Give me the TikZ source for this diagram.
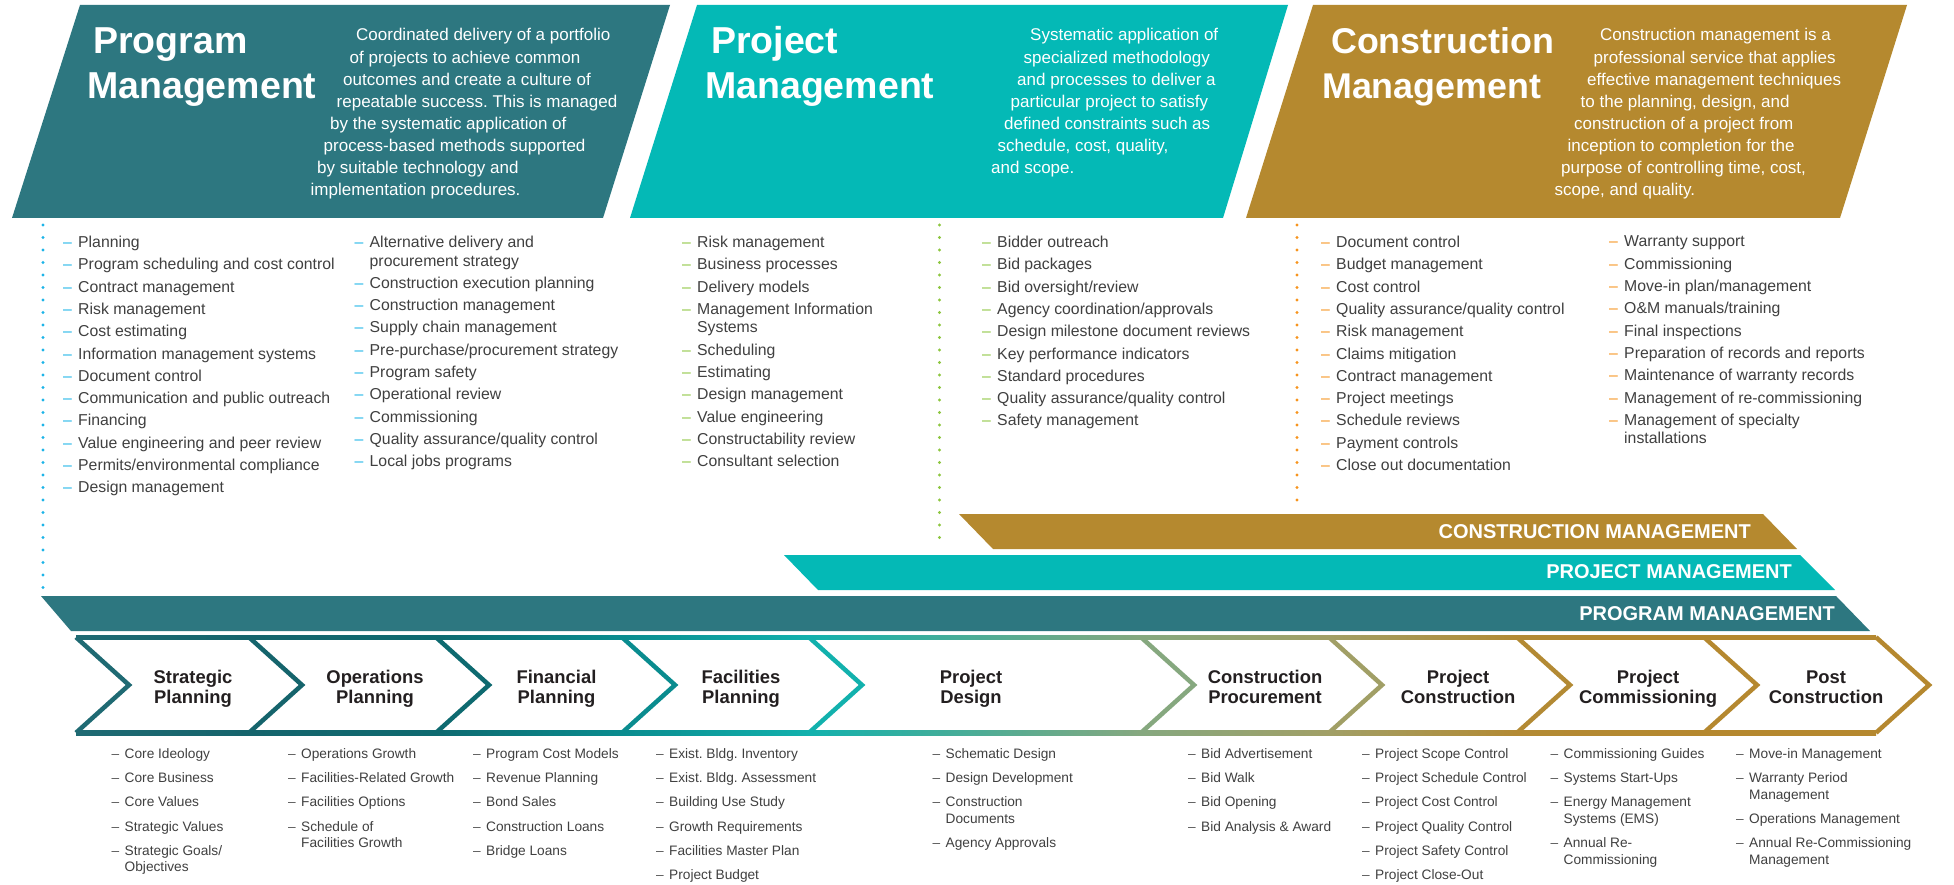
\documentclass[tikz,border=0pt]{standalone}
\usepackage{fontspec}
\setmainfont{Liberation Sans}
\frenchspacing

\definecolor{pgmteal}{HTML}{2D7780}
\definecolor{prjteal}{HTML}{04B9B6}
\definecolor{cmgold}{HTML}{B5892F}
\definecolor{dotblue}{HTML}{1CB4E8}
\definecolor{dotgreen}{HTML}{8DC63F}
\definecolor{dotorange}{HTML}{F7941D}
\definecolor{txtgrey}{HTML}{404040}
\definecolor{lblblack}{HTML}{231F20}
\definecolor{dshgrey}{HTML}{555555}
% chevron outline colours, left to right
\definecolor{cv0}{HTML}{1F6A73}
\definecolor{cv1}{HTML}{15646C}
\definecolor{cv2}{HTML}{0E6A70}
\definecolor{cv3}{HTML}{0A8C8F}
\definecolor{cv4}{HTML}{12B1AD}
\definecolor{cv5}{HTML}{86A87F}
\definecolor{cv6}{HTML}{A19F66}
\definecolor{cv7}{HTML}{B38A34}
\definecolor{cv8}{HTML}{B5882F}
\definecolor{cv9}{HTML}{B5882F}

% list items: coloured dash, then text; continuation line
\newcommand{\lsti}[1]{\makebox[\dashw][l]{\textcolor{\dashcol}{\textendash}}#1}
\newcommand{\lstc}[1]{\hspace*{\dashw}#1}

\begin{document}
\begin{tikzpicture}[x=1pt, y=-1pt,
    hdtitle/.style={font=\fontsize{37.5}{40}\selectfont\bfseries, text=white, anchor=base west, inner sep=0pt},
    hddesc/.style={font=\fontsize{17}{20}\selectfont, text=white, anchor=base west, inner sep=0pt},
    toplist/.style={font=\fontsize{15.8}{18.5}\selectfont, text=txtgrey, align=left, anchor=north west, inner sep=0pt,
        execute at begin node={\def\dashw{15pt}\def\dashcol{#1}}},
    botlist/.style={font=\fontsize{13.7}{16.7}\selectfont, text=txtgrey, align=left, anchor=north west, inner sep=0pt,
        execute at begin node={\def\dashw{13pt}\def\dashcol{dshgrey}}},
    barlabel/.style={font=\fontsize{20}{22}\selectfont\bfseries, text=white, anchor=east, inner sep=0pt},
    chevlabel/.style={font=\fontsize{18.4}{20}\selectfont\bfseries, text=lblblack, align=center, anchor=north, inner sep=0pt},
    dotline/.style={line width=3.3pt, line cap=round, dash pattern=on 0pt off 12.5pt},
    chevline/.style={line width=4.5pt, line join=miter}]

    \fill[white] (0,0) rectangle (1954,885);
    \useasboundingbox (0,0) rectangle (1954,885);

    % 三个标题平行四边形
    \fill[pgmteal] (80,5) -- (670,5) -- (603,218) -- (12,218) -- cycle;
    \fill[prjteal] (697,5) -- (1288,5) -- (1223,218) -- (630,218) -- cycle;
    \fill[cmgold] (1313,5) -- (1907,5) -- (1840,218) -- (1246,218) -- cycle;

    % 标题文字
    \node[hdtitle] (pgm-t1) at (93,53.3) {Program};
    \node[hdtitle] (pgm-t2) at (87,98.3) {Management};
    \node[hdtitle] (prj-t1) at (711,53.3) {Project};
    \node[hdtitle] (prj-t2) at (705,98.3) {Management};
    \node[hdtitle, font=\fontsize{35.8}{38}\selectfont\bfseries] (cm-t1) at (1331,53.3) {Construction};
    \node[hdtitle, font=\fontsize{35.8}{38}\selectfont\bfseries] (cm-t2) at (1322,98.3) {Management};

    % 说明文字, 每行左端随斜边左移
    \foreach \ln [count=\i from 0] in {Coordinated delivery of a portfolio, of projects to achieve common,
        outcomes and create a culture of, repeatable success. This is managed, by the systematic application of,
        process-based methods supported, by suitable technology and, implementation procedures.}
        \node[hddesc] (pgm-d\i) at (356-6.5*\i, 41+22.1*\i) {\ln};
    \foreach \ln [count=\i from 0] in {Systematic application of, specialized methodology,
        and processes to deliver a, particular project to satisfy, defined constraints such as,
        {schedule, cost, quality,}, and scope.}
        \node[hddesc] (prj-d\i) at (1030-6.5*\i, 41+22.1*\i) {\ln};
    \foreach \ln [count=\i from 0] in {Construction management is a, professional service that applies,
        effective management techniques, {to the planning, design, and}, construction of a project from,
        inception to completion for the, {purpose of controlling time, cost,}, {scope, and quality.}}
        \node[hddesc] (cm-d\i) at (1600-6.5*\i, 41+22.1*\i) {\ln};

    % 点线
    \coordinate (pgm-dtop) at (43,225);
    \coordinate (pgm-dbot) at (43,590);
    \coordinate (prj-dtop) at (939.5,225);
    \coordinate (prj-dbot) at (939.5,549);
    \coordinate (cm-dtop) at (1297,225);
    \coordinate (cm-dbot) at (1297,508);
    \draw[dotline, dotblue] (pgm-dtop) -- (pgm-dbot);
    \draw[dotline, dotgreen] (prj-dtop) -- (prj-dbot);
    \draw[dotline, dotorange] (cm-dtop) -- (cm-dbot);

    % 上方列表
    \node[toplist=dotblue] (pgm-l1) at (63,235.9) {\lsti{Planning}\\[3.8pt]\lsti{Program scheduling and cost control}\\[3.8pt]
        \lsti{Contract management}\\[3.8pt]\lsti{Risk management}\\[3.8pt]\lsti{Cost estimating}\\[3.8pt]
        \lsti{Information management systems}\\[3.8pt]\lsti{Document control}\\[3.8pt]
        \lsti{Communication and public outreach}\\[3.8pt]\lsti{Financing}\\[3.8pt]
        \lsti{Value engineering and peer review}\\[3.8pt]\lsti{Permits/environmental compliance}\\[3.8pt]
        \lsti{Design management}};
    \node[toplist=dotblue] (pgm-l2) at (354.5,235.9) {\lsti{Alternative delivery and}\\\lstc{procurement strategy}\\[3.8pt]
        \lsti{Construction execution planning}\\[3.8pt]\lsti{Construction management}\\[3.8pt]
        \lsti{Supply chain management}\\[3.8pt]\lsti{Pre-purchase/procurement strategy}\\[3.8pt]
        \lsti{Program safety}\\[3.8pt]\lsti{Operational review}\\[3.8pt]\lsti{Commissioning}\\[3.8pt]
        \lsti{Quality assurance/quality control}\\[3.8pt]\lsti{Local jobs programs}};
    \node[toplist=dotgreen] (prj-l1) at (682,235.9) {\lsti{Risk management}\\[3.8pt]\lsti{Business processes}\\[3.8pt]
        \lsti{Delivery models}\\[3.8pt]\lsti{Management Information}\\\lstc{Systems}\\[3.8pt]
        \lsti{Scheduling}\\[3.8pt]\lsti{Estimating}\\[3.8pt]\lsti{Design management}\\[3.8pt]
        \lsti{Value engineering}\\[3.8pt]\lsti{Constructability review}\\[3.8pt]\lsti{Consultant selection}};
    \node[toplist=dotgreen] (prj-l2) at (982,235.9) {\lsti{Bidder outreach}\\[3.8pt]\lsti{Bid packages}\\[3.8pt]
        \lsti{Bid oversight/review}\\[3.8pt]\lsti{Agency coordination/approvals}\\[3.8pt]
        \lsti{Design milestone document reviews}\\[3.8pt]\lsti{Key performance indicators}\\[3.8pt]
        \lsti{Standard procedures}\\[3.8pt]\lsti{Quality assurance/quality control}\\[3.8pt]
        \lsti{Safety management}};
    \node[toplist=dotorange] (cm-l1) at (1321,235.9) {\lsti{Document control}\\[3.8pt]\lsti{Budget management}\\[3.8pt]
        \lsti{Cost control}\\[3.8pt]\lsti{Quality assurance/quality control}\\[3.8pt]\lsti{Risk management}\\[3.8pt]
        \lsti{Claims mitigation}\\[3.8pt]\lsti{Contract management}\\[3.8pt]\lsti{Project meetings}\\[3.8pt]
        \lsti{Schedule reviews}\\[3.8pt]\lsti{Payment controls}\\[3.8pt]\lsti{Close out documentation}};
    \node[toplist=dotorange] (cm-l2) at (1609,235.9) {\lsti{Warranty support}\\[3.8pt]\lsti{Commissioning}\\[3.8pt]
        \lsti{Move-in plan/management}\\[3.8pt]\lsti{O\&M manuals/training}\\[3.8pt]\lsti{Final inspections}\\[3.8pt]
        \lsti{Preparation of records and reports}\\[3.8pt]\lsti{Maintenance of warranty records}\\[3.8pt]
        \lsti{Management of re-commissioning}\\[3.8pt]\lsti{Management of specialty}\\\lstc{installations}};

    % 三条横带
    \fill[cmgold] (959,514) -- (1763,514) -- (1797,549) -- (993,549) -- cycle;
    \fill[prjteal] (784,555) -- (1800,555) -- (1835,590) -- (818,590) -- cycle;
    \fill[pgmteal] (41,596) -- (1836,596) -- (1870,631) -- (71,631) -- cycle;
    \node[barlabel] (cm-bar) at (1751,531.7) {CONSTRUCTION MANAGEMENT};
    \node[barlabel] (prj-bar) at (1792,571.7) {PROJECT MANAGEMENT};
    \node[barlabel] (pgm-bar) at (1835,613.3) {PROGRAM MANAGEMENT};

    % 阶段箭头: 渐变的上下边, 然后各个 > 形分隔线
    \foreach \xa/\xb/\ca/\cb in {76/249/cv0/cv1, 249/436/cv1/cv2, 436/622/cv2/cv3, 622/809/cv3/cv4,
        809/1141/cv4/cv5, 1141/1329/cv5/cv6, 1329/1517/cv6/cv7, 1517/1704/cv7/cv8, 1704/1876/cv8/cv9} {
        \shade[left color=\ca, right color=\cb] (\xa,635) rectangle (\xb,639.5);
        \shade[left color=\ca, right color=\cb] (\xa,730.5) rectangle (\xb,735);
    }
    \foreach \xs/\cs in {76/cv0, 249/cv1, 436/cv2, 622/cv3, 809/cv4, 1141/cv5, 1329/cv6, 1517/cv7, 1704/cv8, 1876/cv9}
        \draw[chevline, color=\cs] (\xs,637.25) -- ++(53,47.75) -- ++(-53,47.75);

    % 阶段名称
    \node[chevlabel] (sp) at (193,670.3) {Strategic\\Planning};
    \node[chevlabel] (op) at (375,670.3) {Operations\\Planning};
    \node[chevlabel] (fp) at (556.5,670.3) {Financial\\Planning};
    \node[chevlabel] (fcp) at (741,670.3) {Facilities\\Planning};
    \node[chevlabel] (pd) at (971,670.3) {Project\\Design};
    \node[chevlabel] (cp) at (1265,670.3) {Construction\\Procurement};
    \node[chevlabel] (pc) at (1458,670.3) {Project\\Construction};
    \node[chevlabel] (pcm) at (1648,670.3) {Project\\Commissioning};
    \node[chevlabel] (pst) at (1826,670.3) {Post\\Construction};

    % 下方列表
    \node[botlist] (sp-l) at (111.5,748.3) {\lsti{Core Ideology}\\[7.5pt]\lsti{Core Business}\\[7.5pt]\lsti{Core Values}\\[7.5pt]
        \lsti{Strategic Values}\\[7.5pt]\lsti{Strategic Goals/}\\\lstc{Objectives}};
    \node[botlist] (op-l) at (288,748.3) {\lsti{Operations Growth}\\[7.5pt]\lsti{Facilities-Related Growth}\\[7.5pt]
        \lsti{Facilities Options}\\[7.5pt]\lsti{Schedule of}\\\lstc{Facilities Growth}};
    \node[botlist] (fp-l) at (473,748.3) {\lsti{Program Cost Models}\\[7.5pt]\lsti{Revenue Planning}\\[7.5pt]\lsti{Bond Sales}\\[7.5pt]
        \lsti{Construction Loans}\\[7.5pt]\lsti{Bridge Loans}};
    \node[botlist] (fcp-l) at (656,748.3) {\lsti{Exist. Bldg. Inventory}\\[7.5pt]\lsti{Exist. Bldg. Assessment}\\[7.5pt]
        \lsti{Building Use Study}\\[7.5pt]\lsti{Growth Requirements}\\[7.5pt]\lsti{Facilities Master Plan}\\[7.5pt]
        \lsti{Project Budget}};
    \node[botlist] (pd-l) at (932.5,748.3) {\lsti{Schematic Design}\\[7.5pt]\lsti{Design Development}\\[7.5pt]
        \lsti{Construction}\\\lstc{Documents}\\[7.5pt]\lsti{Agency Approvals}};
    \node[botlist] (cp-l) at (1188,748.3) {\lsti{Bid Advertisement}\\[7.5pt]\lsti{Bid Walk}\\[7.5pt]\lsti{Bid Opening}\\[7.5pt]
        \lsti{Bid Analysis \& Award}};
    \node[botlist] (pc-l) at (1362,748.3) {\lsti{Project Scope Control}\\[7.5pt]\lsti{Project Schedule Control}\\[7.5pt]
        \lsti{Project Cost Control}\\[7.5pt]\lsti{Project Quality Control}\\[7.5pt]\lsti{Project Safety Control}\\[7.5pt]
        \lsti{Project Close-Out}};
    \node[botlist] (pcm-l) at (1550.5,748.3) {\lsti{Commissioning Guides}\\[7.5pt]\lsti{Systems Start-Ups}\\[7.5pt]
        \lsti{Energy Management}\\\lstc{Systems (EMS)}\\[7.5pt]\lsti{Annual Re-}\\\lstc{Commissioning}};
    \node[botlist] (pst-l) at (1736,748.3) {\lsti{Move-in Management}\\[7.5pt]\lsti{Warranty Period}\\\lstc{Management}\\[7.5pt]
        \lsti{Operations Management}\\[7.5pt]\lsti{Annual Re-Commissioning}\\\lstc{Management}};
\end{tikzpicture}
\end{document}
